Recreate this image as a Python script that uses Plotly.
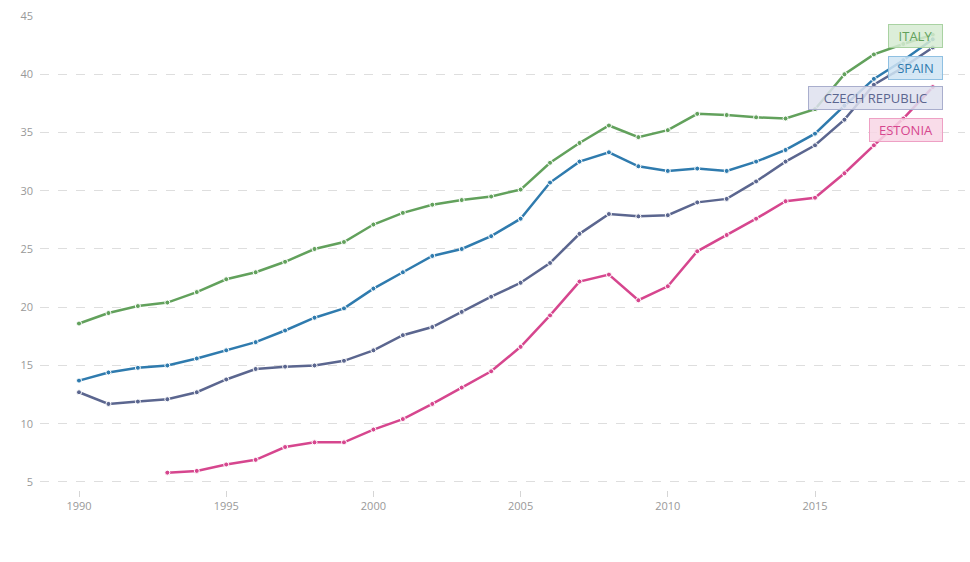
import plotly.graph_objects as go

years = list(range(1990, 2020))
italy = [18.6, 19.5, 20.1, 20.4, 21.3, 22.4, 23.0, 23.9, 25.0, 25.6, 27.1, 28.1, 28.8, 29.2, 29.5,
         30.1, 32.4, 34.1, 35.6, 34.6, 35.2, 36.6, 36.5, 36.3, 36.2, 37.0, 40.0, 41.7, 42.6, 43.4]
spain = [13.7, 14.4, 14.8, 15.0, 15.6, 16.3, 17.0, 18.0, 19.1, 19.9, 21.6, 23.0, 24.4, 25.0, 26.1,
         27.6, 30.7, 32.5, 33.3, 32.1, 31.7, 31.9, 31.7, 32.5, 33.5, 34.9, 37.3, 39.6, 41.2, 43.0]
czech = [12.7, 11.7, 11.9, 12.1, 12.7, 13.8, 14.7, 14.9, 15.0, 15.4, 16.3, 17.6, 18.3, 19.6, 20.9,
         22.1, 23.8, 26.3, 28.0, 27.8, 27.9, 29.0, 29.3, 30.8, 32.5, 33.9, 36.1, 39.1, 40.6, 42.3]
estonia = [None, None, None, 5.8, 5.95, 6.5, 6.9, 8.0, 8.4, 8.4, 9.5, 10.4, 11.7, 13.1, 14.5,
           16.6, 19.3, 22.2, 22.8, 20.6, 21.8, 24.8, 26.2, 27.6, 29.1, 29.4, 31.5, 33.9, 36.2, 38.9]

names = ["ITALY", "SPAIN", "CZECH REPUBLIC", "ESTONIA"]
series = [italy, spain, czech, estonia]
line_colors = ["#62a15c", "#2f7bae", "#5b668f", "#d6468e"]
box_fill = ["rgba(214,235,210,0.85)", "rgba(207,228,243,0.85)", "rgba(222,225,238,0.85)", "rgba(248,214,229,0.85)"]
box_border = ["#a9d2a2", "#8fc0e2", "#a9aecd", "#eea0c4"]
label_y = [43.28, 40.54, 37.96, 35.21]
label_w = [47, 47, 127, 66]

fig = go.Figure()
for name, vals, col in zip(names, series, line_colors):
    fig.add_trace(go.Scatter(
        x=years, y=vals, name=name, mode="lines+markers",
        line=dict(color=col, width=2.5),
        marker=dict(size=5, color=col, line=dict(color="white", width=1)),
        connectgaps=False, showlegend=False,
    ))

for name, col, fill, border, ly, w in zip(names, line_colors, box_fill, box_border, label_y, label_w):
    fig.add_annotation(
        x=years[-1], y=ly, xref="x", yref="y", text=name, showarrow=False,
        xanchor="right", yanchor="middle", xshift=10,
        font=dict(family="Open Sans", size=13, color=col),
        bgcolor=fill, bordercolor=border, borderwidth=1, borderpad=3,
        width=w, height=16, align="center",
    )

fig.update_layout(
    width=970, height=562,
    margin=dict(l=40, r=5, t=16, b=72),
    paper_bgcolor="white", plot_bgcolor="white",
    font=dict(family="Open Sans", size=11, color="#999999"),
    xaxis=dict(
        range=[1988.675, 2020.095], tickvals=[1990, 1995, 2000, 2005, 2010, 2015],
        showgrid=False, zeroline=False, showline=False,
        ticks="outside", ticklen=6, tickcolor="#d5d5d5", tickwidth=1,
        tickfont=dict(size=11, color="#999999"),
    ),
    yaxis=dict(
        range=[4.31, 45], tickvals=[5, 10, 15, 20, 25, 30, 35, 40, 45],
        showgrid=True, gridcolor="#dedede", griddash="dash", gridwidth=1,
        zeroline=False, showline=False, ticks="",
        tickfont=dict(size=11, color="#999999"), ticklabelstandoff=6,
    ),
)

fig.write_html("out.html")
